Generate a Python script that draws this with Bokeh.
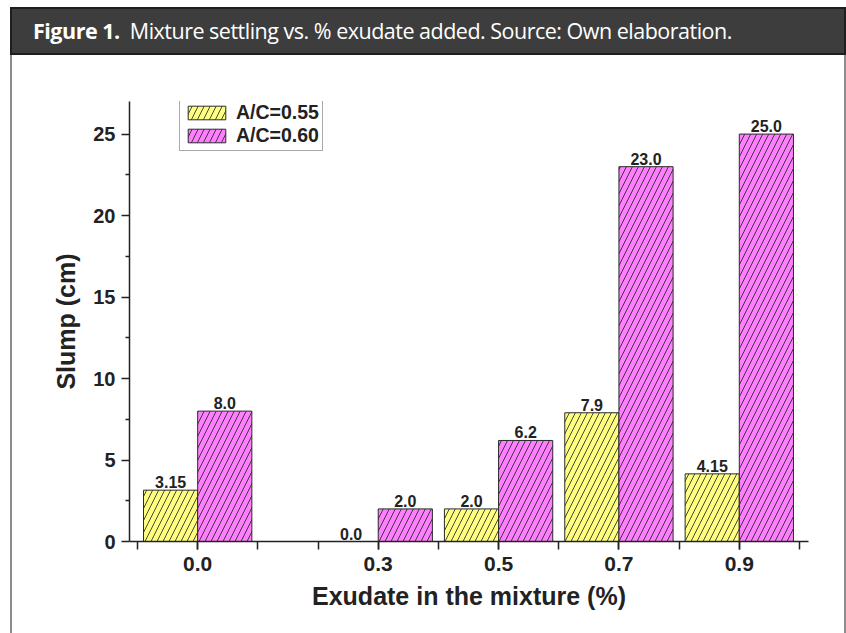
from bokeh.plotting import figure
from bokeh.models import Div, FixedTicker, Legend, LegendItem, ColumnDataSource, PrintfTickFormatter
from bokeh.transform import dodge
from bokeh.layouts import column
from bokeh.core.properties import value
from bokeh.embed import file_html
from bokeh.resources import INLINE

# ---- data ----
exudate = [0.0, 0.3, 0.5, 0.7, 0.9]
ac055 = [3.15, 0.0, 2.0, 7.9, 4.15]
ac060 = [8.0, 2.0, 6.2, 23.0, 25.0]
ac055_labels = ["3.15", "0.0", "2.0", "7.9", "4.15"]
ac060_labels = ["8.0", "2.0", "6.2", "23.0", "25.0"]
x_tick_values = [0.0, 0.3, 0.5, 0.7, 0.9]
x_minor_ticks = [-0.1, 0.0, 0.1, 0.2, 0.3, 0.4, 0.5, 0.6, 0.7, 0.8, 0.9, 1.0]
y_tick_values = [0, 5, 10, 15, 20, 25]
y_minor_ticks = [2.5, 7.5, 12.5, 17.5, 22.5]

src = ColumnDataSource(dict(x=exudate, a=ac055, b=ac060, la=ac055_labels, lb=ac060_labels))

FONT = "Liberation Sans"
BAR_W = 0.09

header = Div(
    text='<span style="font-weight:700">Figure 1.</span>&nbsp; Mixture settling vs. % exudate added. Source: Own elaboration.',
    width=836, height=48, margin=(7, 0, 0, 10),
    styles={
        "background-color": "#3d3d3d",
        "border": "2px solid #1e1e1e",
        "box-sizing": "border-box",
        "color": "white",
        "font-family": "'Open Sans'",
        "font-size": "21.5px",
        "padding-left": "21px",
        "line-height": "44px",
        "letter-spacing": "-0.5px",
        "white-space": "nowrap",
        "overflow": "hidden",
    },
)

p = figure(
    width=836, height=578, margin=(0, 0, 0, 10),
    x_range=(-0.1133, 1.015), y_range=(0, 27),
    output_backend="svg", toolbar_location=None,
    min_border_left=117, min_border_right=40, min_border_top=46, min_border_bottom=92,
    styles={"border-left": "2px solid #8c8c8c", "border-right": "2px solid #8c8c8c", "box-sizing": "border-box"},
)
p.outline_line_color = None
p.xgrid.visible = False
p.ygrid.visible = False

r1 = p.vbar(x=dodge("x", -BAR_W / 2, range=p.x_range), top="a", width=BAR_W, source=src,
            fill_color="#ffff80", line_color="#2a2a2a", line_width=1,
            hatch_pattern="/", hatch_color="#1a1a1a", hatch_scale=12, hatch_weight=0.8)
r2 = p.vbar(x=dodge("x", BAR_W / 2, range=p.x_range), top="b", width=BAR_W, source=src,
            fill_color="#ff80ff", line_color="#2a2a2a", line_width=1,
            hatch_pattern="/", hatch_color="#1a1a1a", hatch_scale=12, hatch_weight=0.8)

for col, lab, off in (("a", "la", -BAR_W / 2), ("b", "lb", BAR_W / 2)):
    p.text(x=dodge("x", off, range=p.x_range), y=col, text=lab, source=src,
           text_align="center", text_baseline="bottom", y_offset=-2,
           text_font=value(FONT), text_font_style="bold", text_font_size="16px",
           text_color="#222222")

# axes
for ax in (p.xaxis[0], p.yaxis[0]):
    ax.axis_line_color = "#222222"
    ax.axis_line_width = 1.5
    ax.major_tick_line_color = "#222222"
    ax.minor_tick_line_color = "#222222"
    ax.major_tick_line_width = 1.5
    ax.minor_tick_line_width = 1.5
    ax.major_label_text_font = FONT
    ax.major_label_text_font_style = "bold"
    ax.major_label_text_color = "#222222"
    ax.axis_label_text_font = FONT
    ax.axis_label_text_font_style = "bold"
    ax.axis_label_text_font_size = "25px"
    ax.axis_label_text_color = "#222222"

p.xaxis.ticker = FixedTicker(ticks=x_tick_values, minor_ticks=x_minor_ticks)
p.xaxis.formatter = PrintfTickFormatter(format="%.1f")
p.xaxis.major_tick_in = 0
p.xaxis.major_tick_out = 8
p.xaxis.minor_tick_in = 0
p.xaxis.minor_tick_out = 8
p.xaxis.major_label_text_font_size = "21px"
p.xaxis.major_label_standoff = 7
p.xaxis.axis_label = "Exudate in the mixture (%)"
p.xaxis.axis_label_standoff = 8

p.yaxis.ticker = FixedTicker(ticks=y_tick_values, minor_ticks=y_minor_ticks)
p.yaxis.major_tick_in = 0
p.yaxis.major_tick_out = 8
p.yaxis.minor_tick_in = 0
p.yaxis.minor_tick_out = 4
p.yaxis.major_label_text_font_size = "20px"
p.yaxis.major_label_standoff = 6
p.yaxis.axis_label = "Slump (cm)"
p.yaxis.axis_label_standoff = 10

legend = Legend(
    items=[LegendItem(label="A/C=0.55", renderers=[r1]), LegendItem(label="A/C=0.60", renderers=[r2])],
    location=(50, 390),
    label_text_font=FONT, label_text_font_style="bold", label_text_font_size="19.5px",
    label_text_color="#222222",
    glyph_width=47, glyph_height=17, label_height=17, label_standoff=6,
    spacing=0, padding=3, margin=0,
    border_line_color="#555555", border_line_width=1,
    background_fill_color="white", background_fill_alpha=1,
)
p.add_layout(legend)

layout = column(header, p, margin=0)

with open("out.html", "w") as f:
    f.write(file_html(layout, INLINE))
